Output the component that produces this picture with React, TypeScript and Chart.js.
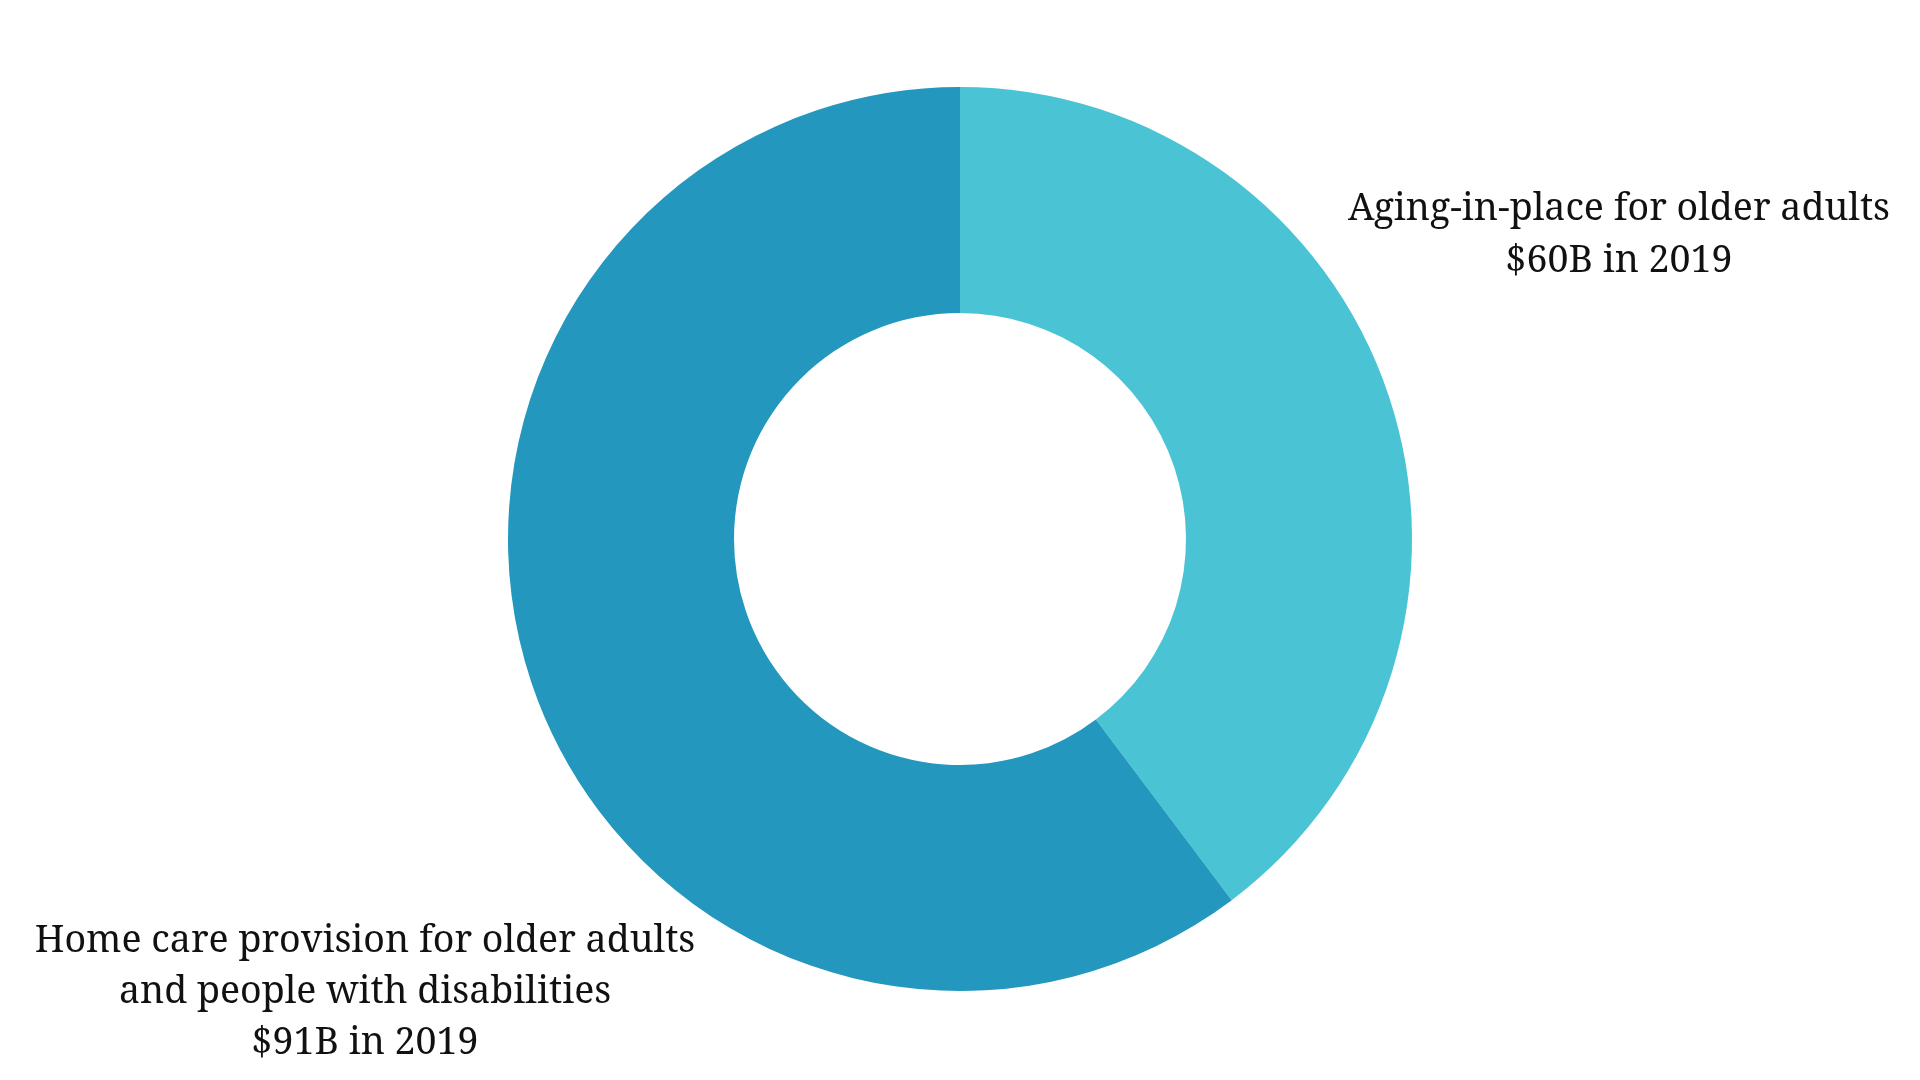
import { useEffect, useRef } from "react";
import { Chart, registerables } from "chart.js";
import type { ChartConfiguration, Plugin } from "chart.js";

Chart.register(...registerables);

const categories = [
  "Aging-in-place for older adults",
  "Home care provision for older adults and people with disabilities",
];
const values = [60, 91];
const labelLines = [
  ["Aging-in-place for older adults", "$60B in 2019"],
  ["Home care provision for older adults", "and people with disabilities", "$91B in 2019"],
];
const colors = ["#4ac3d4", "#2397bd"];

const FONT = "'Noto Serif', 'DejaVu Serif', serif";

// draws the two callout labels beside the ring
const sideLabels: Plugin<"doughnut"> = {
  id: "sideLabels",
  afterDraw(chart) {
    const arc = chart.getDatasetMeta(0).data[0] as any;
    if (!arc) return;
    const { x, y, outerRadius } = arc.getProps(["x", "y", "outerRadius"], true);
    const ctx = chart.ctx;
    ctx.save();
    ctx.fillStyle = "#111";
    ctx.textAlign = "center";
    ctx.textBaseline = "alphabetic";
    ctx.font = `37.5px ${FONT}`;

    labelLines[0].forEach((line, i) => {
      ctx.fillText(line, x + outerRadius + 207, y - 319 + i * 52);
    });
    labelLines[1].forEach((line, i) => {
      ctx.fillText(line, x - outerRadius - 143, y + 413 + i * 51);
    });
    ctx.restore();
  },
};

export default function App() {
  const canvasRef = useRef<HTMLCanvasElement | null>(null);
  const chartRef = useRef<Chart | null>(null);

  useEffect(() => {
    if (!canvasRef.current) return;
    if (chartRef.current) chartRef.current.destroy();

    const config: ChartConfiguration<"doughnut"> = {
      type: "doughnut",
      data: {
        labels: categories,
        datasets: [
          {
            data: values,
            backgroundColor: colors,
            borderWidth: 0,
          },
        ],
      },
      options: {
        responsive: true,
        maintainAspectRatio: false,
        animation: false,
        cutout: "50%",
        layout: { padding: { top: 87, bottom: 89 } },
        plugins: {
          legend: { display: false },
          tooltip: { enabled: false },
        },
      },
      plugins: [sideLabels],
    };

    chartRef.current = new Chart(canvasRef.current, config);
    return () => {
      chartRef.current?.destroy();
      chartRef.current = null;
    };
  }, []);

  return (
    <div style={{ position: "fixed", left: 0, top: 0, width: 1920, height: 1080, background: "#fff" }}>
      <canvas ref={canvasRef} />
    </div>
  );
}
